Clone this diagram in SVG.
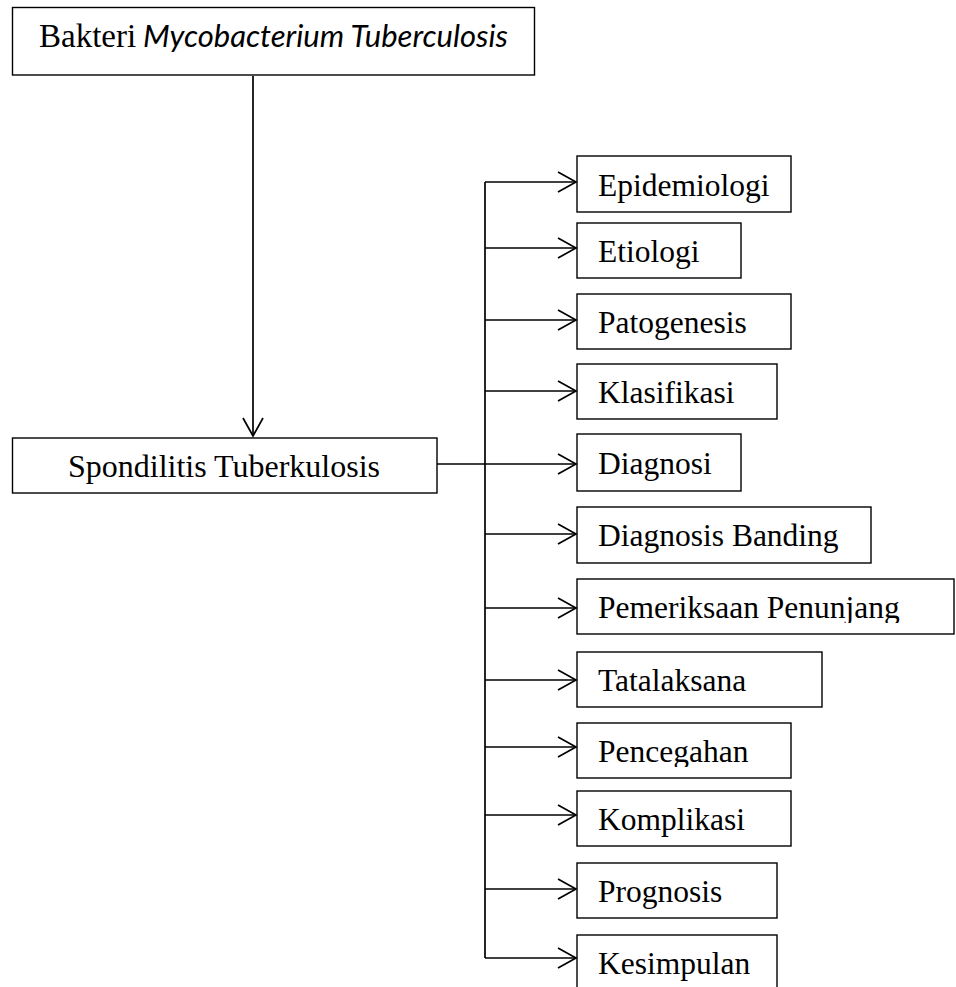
<svg xmlns="http://www.w3.org/2000/svg" width="956" height="987" viewBox="0 0 956 987">
<style>
.box{fill:#fff;stroke:#000;stroke-width:1.4}
.t{font-family:"Liberation Serif","Times New Roman",serif;font-size:31.5px;fill:#000}
.it{font-family:Lato,"Open Sans",sans-serif;font-style:italic;font-size:31px;fill:#000}
.ln{fill:none;stroke:#000;stroke-width:1.7}
</style>
<defs>
<marker id="arr" markerUnits="userSpaceOnUse" markerWidth="22" markerHeight="24" refX="19" refY="11" orient="auto" overflow="visible">
<path d="M1,1 L19,11 L1,21" fill="none" stroke="#000" stroke-width="1.7"/>
</marker>
<clipPath id="c7"><rect x="577" y="579" width="377" height="44"/></clipPath>
<clipPath id="c9"><rect x="577" y="723" width="214" height="44"/></clipPath>
</defs>
<g id="bakteri">
<rect class="box" x="12.5" y="7.5" width="522" height="67.5"/>
<text x="39" y="47" class="t" style="font-size:33px">Bakteri</text>
<text x="143" y="47" class="it" textLength="365" lengthAdjust="spacingAndGlyphs">Mycobacterium Tuberculosis</text>
</g>
<g id="spondilitis">
<rect class="box" x="12.5" y="438" width="424.5" height="55"/>
<text x="68" y="477" class="t" textLength="312" lengthAdjust="spacingAndGlyphs">Spondilitis Tuberkulosis</text>
</g>
<g id="epidemiologi"><rect class="box" x="577" y="156" width="214" height="56"/><text x="598" y="196" class="t">Epidemiologi</text></g>
<g id="etiologi"><rect class="box" x="577" y="223" width="164" height="55"/><text x="598" y="262" class="t">Etiologi</text></g>
<g id="patogenesis"><rect class="box" x="577" y="294" width="214" height="55"/><text x="598" y="333" class="t">Patogenesis</text></g>
<g id="klasifikasi"><rect class="box" x="577" y="364" width="200" height="55"/><text x="598" y="403" class="t">Klasifikasi</text></g>
<g id="diagnosi"><rect class="box" x="577" y="434" width="164" height="57"/><text x="598" y="474" class="t">Diagnosi</text></g>
<g id="diagnosis-banding"><rect class="box" x="577" y="507" width="294" height="56"/><text x="598" y="546" class="t">Diagnosis Banding</text></g>
<g id="pemeriksaan"><rect class="box" x="577" y="579" width="377" height="55"/><text x="598" y="618" class="t" clip-path="url(#c7)">Pemeriksaan Penunjang</text></g>
<g id="tatalaksana"><rect class="box" x="577" y="652" width="245" height="55"/><text x="598" y="691" class="t">Tatalaksana</text></g>
<g id="pencegahan"><rect class="box" x="577" y="723" width="214" height="55"/><text x="598" y="762" class="t" clip-path="url(#c9)">Pencegahan</text></g>
<g id="komplikasi"><rect class="box" x="577" y="791" width="214" height="55"/><text x="598" y="830" class="t">Komplikasi</text></g>
<g id="prognosis"><rect class="box" x="577" y="863" width="200" height="55"/><text x="598" y="902" class="t">Prognosis</text></g>
<g id="kesimpulan"><rect class="box" x="577" y="935" width="200" height="70"/><text x="598" y="974" class="t">Kesimpulan</text></g>
<g id="connectors">
<line class="ln" x1="253" y1="76" x2="253" y2="436" marker-end="url(#arr)"/>
<line class="ln" x1="437" y1="464" x2="485" y2="464"/>
<line class="ln" x1="485" y1="182" x2="485" y2="958"/>
<line class="ln" x1="485" y1="182" x2="576" y2="182" marker-end="url(#arr)"/>
<line class="ln" x1="485" y1="248" x2="576" y2="248" marker-end="url(#arr)"/>
<line class="ln" x1="485" y1="320" x2="576" y2="320" marker-end="url(#arr)"/>
<line class="ln" x1="485" y1="391" x2="576" y2="391" marker-end="url(#arr)"/>
<line class="ln" x1="485" y1="464" x2="576" y2="464" marker-end="url(#arr)"/>
<line class="ln" x1="485" y1="534" x2="576" y2="534" marker-end="url(#arr)"/>
<line class="ln" x1="485" y1="608" x2="576" y2="608" marker-end="url(#arr)"/>
<line class="ln" x1="485" y1="680" x2="576" y2="680" marker-end="url(#arr)"/>
<line class="ln" x1="485" y1="747" x2="576" y2="747" marker-end="url(#arr)"/>
<line class="ln" x1="485" y1="815" x2="576" y2="815" marker-end="url(#arr)"/>
<line class="ln" x1="485" y1="889" x2="576" y2="889" marker-end="url(#arr)"/>
<line class="ln" x1="485" y1="958" x2="576" y2="958" marker-end="url(#arr)"/>
</g>
</svg>
